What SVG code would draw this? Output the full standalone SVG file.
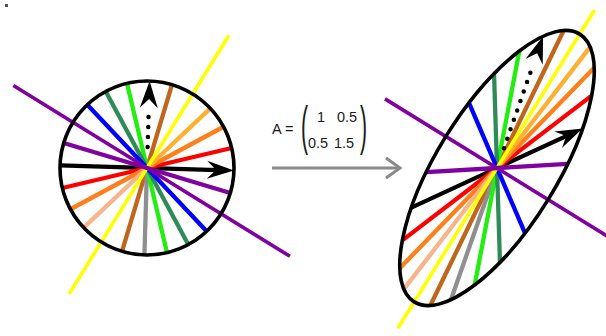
<svg xmlns="http://www.w3.org/2000/svg" width="606" height="336" viewBox="0 0 606 336">
<style>
.ray{stroke-width:4.3;fill:none}
.ext{stroke-width:3.6;fill:none}
.rim{fill:none;stroke:#000;stroke-width:3.6}
.red{stroke:#ff0000}
.orange{stroke:#ff7f1a}
.amber{stroke:#ffb030}
.peach{stroke:#f7b589}
.yellow{stroke:#ffff00}
.brown{stroke:#c0651c}
.gray{stroke:#8f8f8f}
.green{stroke:#22ee11}
.dkgreen{stroke:#2e8b57}
.blue{stroke:#0000ff}
.purple{stroke:#8000a0}
.blk{stroke:#000;stroke-width:4.2;fill:none}
.dots{stroke:#000;stroke-width:4.5;stroke-linecap:round;stroke-dasharray:0 10;fill:none}
.lbl{font-family:"Liberation Sans",Arial,sans-serif;font-size:14.5px;fill:#1a1a1a}
.paren{font-family:"Liberation Sans",Arial,sans-serif;font-size:53px;fill:#1a1a1a}
.conn{stroke:#8a8a8a;stroke-width:3;fill:none}
</style>
<defs>
<marker id="head" markerUnits="userSpaceOnUse" viewBox="-22 -10 32 20" refX="0" refY="0" markerWidth="32" markerHeight="20" orient="auto" overflow="visible">
<path d="M8,0 L-19,-9 L-10,0 L-19,9 Z" fill="#000"/>
</marker>
</defs>
<rect x="5" y="4" width="3" height="3" fill="#555"/>

<g id="unit-circle">
<line class="blk" x1="60.04" y1="165.39" x2="225.96" y2="170.37" marker-end="url(#head)"/>
<line class="ray red" x1="231.67" y1="147.99" x2="62.33" y2="188.01"/>
<line class="ray orange" x1="223.60" y1="126.75" x2="70.40" y2="209.25"/>
<line class="ray amber" x1="147" y1="168" x2="210.32" y2="108.34"/>
<line class="ray peach" x1="147" y1="168" x2="83.68" y2="227.66"/>
<line class="ray brown" x1="172.00" y1="84.67" x2="122.00" y2="251.33"/>
<line class="ray gray" x1="147" y1="168" x2="144.42" y2="254.96"/>
<line class="ray green" x1="126.99" y1="83.33" x2="167.01" y2="252.67"/>
<line class="ray dkgreen" x1="105.75" y1="91.40" x2="188.25" y2="244.60"/>
<line class="ray blue" x1="87.34" y1="104.68" x2="206.66" y2="231.32"/>
<line class="ext yellow" x1="229" y1="35.3" x2="69.2" y2="293.9"/>
<line class="ray purple" x1="63.67" y1="143.00" x2="230.33" y2="193.00"/>
<line class="ext purple" x1="13.4" y1="85.5" x2="289.9" y2="256.3"/>
<circle class="rim" cx="147" cy="168" r="87"/>
<line class="dots" x1="147.63" y1="147.01" x2="148.83" y2="107.03"/>
<line class="blk" x1="149.31" y1="91.03" x2="149.37" y2="89.04" marker-end="url(#head)"/>
</g>

<g id="matrix-label">
<text class="lbl" x="272" y="134">A =</text>
<text class="paren" transform="translate(301,144) scale(0.4,1)">(</text>
<text class="lbl" x="321" y="122" text-anchor="middle">1</text>
<text class="lbl" x="347" y="122" text-anchor="middle">0.5</text>
<text class="lbl" x="318" y="148" text-anchor="middle">0.5</text>
<text class="lbl" x="344" y="148" text-anchor="middle">1.5</text>
<text class="paren" transform="translate(360,144) scale(0.4,1)">)</text>
</g>

<g id="connectors">
<line class="conn" x1="272" y1="168" x2="399" y2="168"/>
<polyline class="conn" points="386,158 400,168 386,178"/>
</g>

<g id="transformed-ellipse">
<line class="blk" x1="411.34" y1="207.56" x2="575.40" y2="131.79" marker-end="url(#head)"/>
<line class="ray red" x1="591.67" y1="95.65" x2="402.33" y2="240.35"/>
<line class="ray orange" x1="594.23" y1="67.83" x2="399.77" y2="268.17"/>
<line class="ray amber" x1="497" y1="168" x2="590.15" y2="46.84"/>
<line class="ray peach" x1="497" y1="168" x2="403.85" y2="289.16"/>
<line class="ray brown" x1="563.67" y1="30.51" x2="430.33" y2="305.49"/>
<line class="ray gray" x1="497" y1="168" x2="450.93" y2="299.74"/>
<line class="ray green" x1="519.32" y1="51.0" x2="474.68" y2="285.0"/>
<line class="ray dkgreen" x1="494.05" y1="73.72" x2="499.95" y2="262.28"/>
<line class="ray blue" x1="468.99" y1="102.85" x2="525.01" y2="233.15"/>
<line class="ext yellow" x1="594.6" y1="10" x2="397.9" y2="328.3"/>
<line class="ray purple" x1="426.17" y1="172.16" x2="567.83" y2="163.84"/>
<line class="ext purple" x1="385" y1="98.9" x2="612" y2="239"/>
<ellipse class="rim" cx="497" cy="168" rx="157.4" ry="60.1" transform="rotate(-58.28 497 168)"/>
<line class="dots" x1="503.93" y1="148.18" x2="533.65" y2="63.23"/>
<line class="blk" x1="539.79" y1="45.67" x2="540.45" y2="43.78" marker-end="url(#head)"/>
</g>
</svg>
